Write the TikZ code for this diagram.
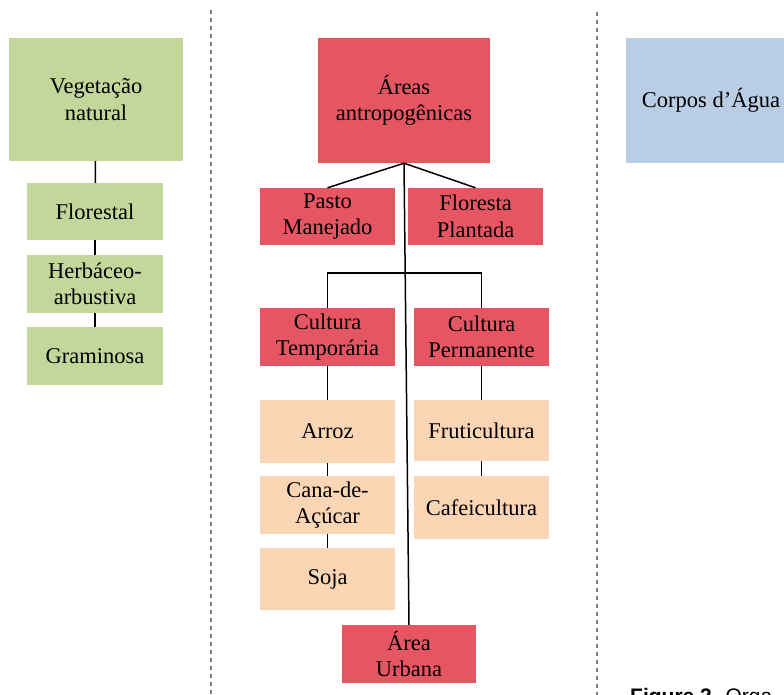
\documentclass[tikz,border=0pt]{standalone}
\usepackage{fontspec}
\setmainfont{Liberation Serif}
\newfontfamily\captionfont{Liberation Sans}
\usetikzlibrary{positioning,calc}
\definecolor{vegegreen}{HTML}{C4D79B}
\definecolor{antrored}{HTML}{E65662}
\definecolor{cropbeige}{HTML}{FCD5B5}
\definecolor{waterblue}{HTML}{B9CDE5}

\begin{document}
\begin{tikzpicture}[x=1pt, y=-1pt,
    cls/.style={rectangle, inner sep=0pt, align=center, font=\fontsize{22.5}{26.5}\selectfont},
    vege/.style={cls, fill=vegegreen, minimum width=136, minimum height=58},
    antro/.style={cls, fill=antrored, minimum width=135, minimum height=58},
    crop/.style={cls, fill=cropbeige, minimum width=135, minimum height=60},
    link/.style={draw=black, line width=1.5pt},
    divider/.style={draw=black!50, line width=1.1pt, dash pattern=on 4pt off 4pt}]

    \clip (0,0) rectangle (784,695);

    % Separators
    \draw[divider] (211,10) -- (211,695);
    \draw[divider] (597,12) -- (597,695);

    % Natural vegetation
    \node[vege, minimum width=174, minimum height=123] (veg) at (96,99.5) {Vegetação\\natural};
    \node[vege, minimum height=57] (flor) at (95,211.5) {Florestal};
    \node[vege] (herb) at (95,284) {Herbáceo-\\arbustiva};
    \node[vege] (gram) at (95,356) {Graminosa};

    % Anthropogenic areas
    \node[antro, minimum width=172, minimum height=125] (antropo) at (404,100.5) {Áreas\\antropogênicas};
    \node[antro, minimum height=57] (pasto) at (327.5,216.5) {Pasto\\Manejado};
    \node[antro, minimum height=57] (fplant) at (475.5,216.5) {Floresta\\Plantada};
    \node[antro] (ctemp) at (327.5,337) {Cultura\\Temporária};
    \node[antro] (cperm) at (481.5,337) {Cultura\\Permanente};
    \node[antro, minimum width=134] (urbana) at (409,654) {Área\\Urbana};

    % Crops
    \node[crop, minimum height=63] (arroz) at (327.5,431.5) {Arroz};
    \node[crop, minimum height=58] (cana) at (327.5,505) {Cana-de-\\Açúcar};
    \node[crop, minimum height=62] (soja) at (327.5,579) {Soja};
    \node[crop, minimum height=61] (fruti) at (481.5,430.5) {Fruticultura};
    \node[crop, minimum height=63] (cafe) at (481.5,507.5) {Cafeicultura};

    % Water bodies
    \node[cls, fill=waterblue, minimum width=170, minimum height=125] (agua) at (711,100.5) {Corpos d’Água};

    % Connections
    \draw[link] (veg) -- (flor);
    \draw[link] (flor) -- (herb);
    \draw[link] (herb) -- (gram);
    \draw[link] (antropo.south) -- (pasto.north);
    \draw[link] (antropo.south) -- (fplant.north);
    \draw[link] (antropo.south) -- (urbana.north);
    \coordinate (bar) at (404,273);
    \draw[link] (ctemp.north) |- (bar) -| (cperm.north);
    \draw[link] (ctemp) -- (arroz);
    \draw[link] (arroz) -- (cana);
    \draw[link] (cana) -- (soja);
    \draw[link] (cperm) -- (fruti);
    \draw[link] (fruti) -- (cafe);

    \node[anchor=base west, font=\captionfont\fontsize{21}{25}\selectfont, inner sep=0pt] (caption) at (630,703) {\textbf{Figure 2.} Orga};
\end{tikzpicture}
\end{document}
